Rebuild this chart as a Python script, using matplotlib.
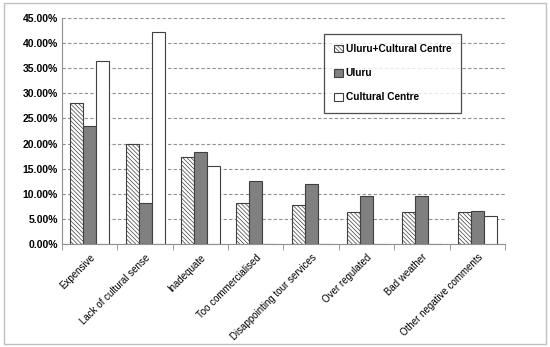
import numpy as np
import matplotlib.pyplot as plt
from matplotlib.ticker import FuncFormatter, MultipleLocator
from matplotlib.patches import Rectangle

plt.rcParams['font.family'] = ['Liberation Sans', 'DejaVu Sans']
plt.rcParams['hatch.linewidth'] = 0.5

categories = ['Expensive', 'Lack of cultural sense', 'Inadequate', 'Too commercialised',
              'Disappointing tour services', 'Over regulated', 'Bad weather',
              'Other negative comments']
uluru_cc = [28.0, 19.9, 17.4, 8.2, 7.8, 6.3, 6.3, 6.3]
uluru = [23.5, 8.1, 18.4, 12.5, 11.9, 9.5, 9.5, 6.6]
cultural = [36.5, 42.2, 15.5, 0, 0, 0, 0, 5.6]

fig = plt.figure(figsize=(5.5, 3.47), dpi=100)
ax = fig.add_axes([0.1127, 0.297, 0.8055, 0.651])

x = np.arange(len(categories))
w = 0.235
ax.bar(x - w, uluru_cc, w, color='white', edgecolor='#404040', hatch='\\' * 8,
       linewidth=0.8, label='Uluru+Cultural Centre')
ax.bar(x, uluru, w, color='#808080', edgecolor='#404040', linewidth=0.8, label='Uluru')
ax.bar(x + w, cultural, w, color='white', edgecolor='#404040', linewidth=0.8,
       label='Cultural Centre')

ax.set_xlim(-0.5, len(categories) - 0.5)
ax.set_ylim(0, 45)
ax.yaxis.set_major_locator(MultipleLocator(5))
ax.yaxis.set_major_formatter(FuncFormatter(lambda v, p: '%.2f%%' % v))
ax.grid(axis='y', linestyle=(0, (3, 2)), color='#909090', linewidth=0.8)
ax.set_axisbelow(True)

ax.set_xticks(x)
ax.set_xticklabels(categories, rotation=45, ha='right', rotation_mode='anchor', fontsize=7)
ax.set_xticks(np.arange(len(categories) + 1) - 0.5, minor=True)
ax.tick_params(axis='x', which='major', length=0, pad=6)
ax.tick_params(axis='x', which='minor', length=4, color='#909090')
ax.tick_params(axis='y', length=0, labelsize=7.5, pad=3)
for t in ax.get_yticklabels():
    t.set_fontweight('bold')

for s in ['top', 'right']:
    ax.spines[s].set_visible(False)
ax.spines['left'].set_color('#909090')
ax.spines['bottom'].set_color('#909090')

leg = ax.legend(loc='upper left', bbox_to_anchor=(0.592, 0.93), frameon=True, fancybox=False,
                edgecolor='#202020', prop={'weight': 'bold', 'size': 7.3},
                handlelength=0.8, handleheight=0.8, handletextpad=0.3,
                labelspacing=1.4, borderpad=1.0, borderaxespad=0)
leg.get_frame().set_linewidth(0.9)

fig.patches.append(Rectangle((0.007, 0.01), 0.986, 0.98, transform=fig.transFigure,
                             fill=False, edgecolor='#c0c0c0', linewidth=1))

fig.savefig('out.png', dpi=100)
